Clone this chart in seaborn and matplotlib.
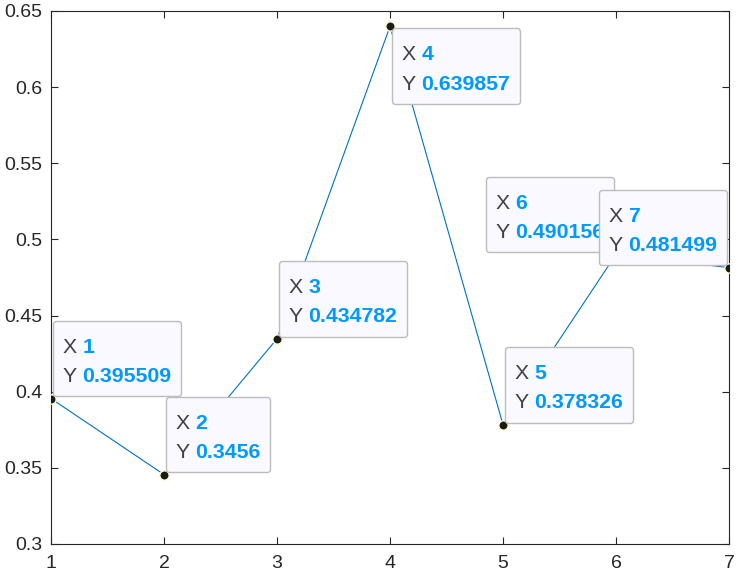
import numpy as np
import pandas as pd
import matplotlib
matplotlib.use("Agg")
import matplotlib.pyplot as plt
import seaborn as sns
from matplotlib.offsetbox import TextArea, HPacker, VPacker, AnnotationBbox, DrawingArea

x_vals = [1, 2, 3, 4, 5, 6, 7]
y_vals = [0.395509, 0.3456, 0.434782, 0.639857, 0.378326, 0.490156, 0.481499]
y_labels = ["0.395509", "0.3456", "0.434782", "0.639857", "0.378326", "0.490156", "0.481499"]
# where each data tip sits relative to its point
tip_side = ["ur", "ur", "ur", "lr", "ur", "ul", "ul"]

y_ticks = [0.3, 0.35, 0.4, 0.45, 0.5, 0.55, 0.6, 0.65]
y_ticklabels = ["0.3", "0.35", "0.4", "0.45", "0.5", "0.55", "0.6", "0.65"]

df = pd.DataFrame({"x": x_vals, "y": y_vals})

sns.set_style("ticks")
plt.rcParams["font.family"] = ["Liberation Sans", "DejaVu Sans"]
plt.rcParams["xtick.direction"] = "in"
plt.rcParams["ytick.direction"] = "in"

fig, ax = plt.subplots(figsize=(7.38, 5.77), dpi=100)
fig.subplots_adjust(left=0.0691, right=0.9878, bottom=0.0572, top=0.981)

sns.lineplot(data=df, x="x", y="y", ax=ax, color="#0072BD", linewidth=0.8, zorder=2)
sns.scatterplot(data=df, x="x", y="y", ax=ax, color="#1a1a1a", s=45,
                edgecolor="#ffffcc", linewidth=1.0, zorder=3)

ax.set_xlim(1, 7)
ax.set_ylim(0.3, 0.65)
ax.set_xticks(x_vals)
ax.set_xticklabels([str(v) for v in x_vals])
ax.set_yticks(y_ticks)
ax.set_yticklabels(y_ticklabels)
ax.set_xlabel("")
ax.set_ylabel("")
for s in ax.spines.values():
    s.set_visible(True)
    s.set_color("#262626")
    s.set_linewidth(0.8)
ax.tick_params(axis="both", which="both", top=True, right=True, length=5, width=0.8,
               color="#262626", labelsize=14, labelcolor="#262626", pad=6)
ax.tick_params(axis="x", pad=8)

fs = 15.3
gray = "#404040"
blue = "#0099FF"
align = {"ur": ((0, 0), (1.5, 1.5)), "lr": ((0, 1), (1.5, -1.5)), "ul": ((1, 0), (-1.5, 1.5))}

for i, (xv, yv) in enumerate(zip(x_vals, y_vals)):
    row_x = HPacker(children=[
        TextArea("X", textprops=dict(color=gray, size=fs)),
        TextArea(str(xv), textprops=dict(color=blue, size=fs, weight="bold")),
    ], pad=0, sep=3.8, align="baseline")
    row_y = HPacker(children=[
        TextArea("Y", textprops=dict(color=gray, size=fs)),
        TextArea(y_labels[i], textprops=dict(color=blue, size=fs, weight="bold")),
    ], pad=0, sep=3.8, align="baseline")
    rows = VPacker(children=[row_x, row_y], pad=0, sep=7.3, align="left")
    box = VPacker(children=[DrawingArea(1, 5.2), rows, DrawingArea(1, 0.5)],
                  pad=7, sep=0, align="left")
    ba, off = align[tip_side[i]]
    ab = AnnotationBbox(box, (xv, yv), xybox=off, xycoords="data",
                        boxcoords="offset points", box_alignment=ba, pad=0,
                        frameon=True,
                        bboxprops=dict(boxstyle="round,pad=0,rounding_size=0.22",
                                       facecolor="#f9f9ff", edgecolor="#bcbcbc",
                                       linewidth=1.0))
    ab.set_zorder(5 + i)
    ab.set_clip_on(False)
    ax.add_artist(ab)

fig.savefig("out.png", dpi=100)
